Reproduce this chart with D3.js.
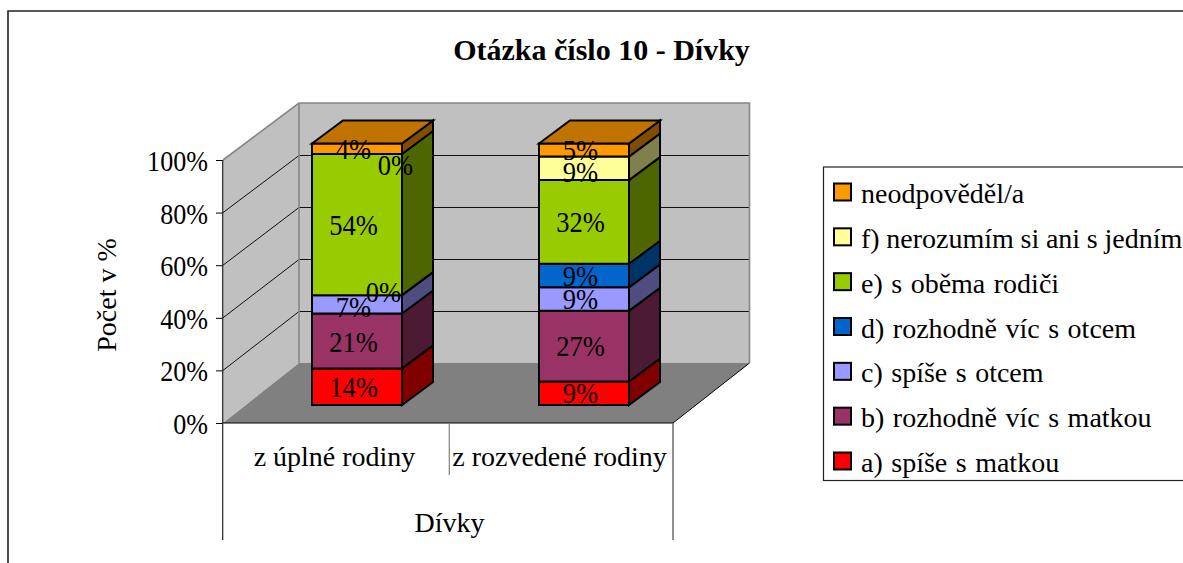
<!DOCTYPE html>
<html><head><meta charset="utf-8">
<script src="https://cdn.jsdelivr.net/npm/d3@7/dist/d3.min.js"></script>
<style>html,body{margin:0;padding:0;background:#fff;overflow:hidden}svg{display:block}text{font-family:"Liberation Serif",serif;fill:#000}</style>
</head><body><svg id="c" width="1183" height="563"></svg>
<script>
const chartTitle = "Otázka číslo 10 - Dívky";
const yAxisTitle = "Počet v %";
const xAxisTitle = "Dívky";
const categories = ["z úplné rodiny", "z rozvedené rodiny"];
const seriesNames = ["a) spíše s matkou","b) rozhodně víc s matkou","c) spíše s otcem","d) rozhodně víc s otcem","e) s oběma rodiči","f) nerozumím si ani s jedním","neodpověděl/a"];
const seriesColors = ["#ff0000","#993366","#9999ff","#0066cc","#99cc00","#ffff99","#ff9900"];
const valuesFull = [14,21,7,0,54,0,4];
const valuesDivorced = [9,27,9,9,32,9,5];
const yTicks = [0,20,40,60,80,100];

const svg = d3.select("#c");
const dark = c => { const k = d3.color(c); return d3.rgb(k.r/2,k.g/2,k.b/2).formatHex(); };
const poly = (pts,fill,stroke,sw) => svg.append("polygon").attr("points",pts.map(p=>p.join(",")).join(" ")).attr("fill",fill).attr("stroke",stroke||"none").attr("stroke-width",sw||0).attr("stroke-linejoin","miter");
const line = (x1,y1,x2,y2,c,w) => svg.append("line").attr("x1",x1).attr("y1",y1).attr("x2",x2).attr("y2",y2).attr("stroke",c).attr("stroke-width",w||1);
// the reference's number glyphs are condensed
const squeeze = (sel,k) => sel.each(function(){ const w=this.getComputedTextLength(); d3.select(this).attr("textLength",w*k).attr("lengthAdjust","spacingAndGlyphs"); });

// outer frame
svg.append("path").attr("d","M8,563V11H1183").attr("fill","none").attr("stroke","#222").attr("stroke-width",1.6);

const fx0=223, fx1=673, fy0=423, fyTop=160, bx0=299, bx1=749.5, by0=363, byTop=103;
const yFront = d3.scaleLinear().domain([0,100]).range([fy0,fyTop]);
const yBack = d3.scaleLinear().domain([0,100]).range([by0,byTop]);
const x = d3.scaleBand().domain(categories).range([fx0,fx1]);

// walls and floor
poly([[bx0,by0],[bx1,by0],[bx1,byTop],[bx0,byTop]],"#c0c0c0");
poly([[fx0,fy0],[bx0,by0],[bx0,byTop],[fx0,fyTop]],"#c0c0c0");
poly([[fx0,fy0],[fx1,fy0],[bx1,by0],[bx0,by0]],"#808080");
// grid
yTicks.slice(1,5).forEach(t=>{
  svg.append("polyline").attr("points",`${fx0},${yFront(t)} ${bx0},${yBack(t)+.5} ${bx1},${yBack(t)+.5}`).attr("fill","none").attr("stroke","#111").attr("stroke-width",1);
});
// wall edges
svg.append("polyline").attr("points",`${fx0},${fyTop} ${bx0},${byTop} ${bx1},${byTop} ${bx1},${by0}`).attr("fill","none").attr("stroke","#868686").attr("stroke-width",1.6);
line(bx0,by0,bx0,byTop,"#868686",1.6);
line(fx1,fy0,bx1,by0,"#000",1);

// bars
const barW=90, bdx=31, bdy=-23, barBottom=405, barTop=143.5;
const yBar=d3.scaleLinear().domain([0,100]).range([barBottom,barTop]);
const barX={[categories[0]]:312,[categories[1]]:539};
const labelNudge={ "0:2":[0,3], "0:1":[0,1.5], "0:3":[30,-3], "0:5":[42,11], "1:5":[0,3.5] };
[valuesFull,valuesDivorced].forEach((vals,ci)=>{
  const bx=barX[categories[ci]];
  const stack=d3.cumsum(vals);
  vals.forEach((v,i)=>{
    if(v===0) return;
    const y0=yBar(stack[i]-v), y1=yBar(stack[i]);
    poly([[bx,y1],[bx+barW,y1],[bx+barW,y0],[bx,y0]],seriesColors[i],"#000",2);
    poly([[bx+barW,y1],[bx+barW+bdx,y1+bdy],[bx+barW+bdx,y0+bdy],[bx+barW,y0]],dark(seriesColors[i]),"#000",2);
  });
  poly([[bx,barTop],[bx+bdx,barTop+bdy],[bx+barW+bdx,barTop+bdy],[bx+barW,barTop]],"#c07300","#000",2);
  vals.forEach((v,i)=>{
    const n=labelNudge[ci+":"+i]||[0,0];
    const y=(yBar(stack[i]-v)+yBar(stack[i]))/2;
    svg.append("text").attr("x",bx+41.5+n[0]).attr("y",y+n[1]+10).attr("text-anchor","middle").attr("font-size",30).text(v+"%").call(squeeze,0.885);
  });
});

// axes
const yAxis=d3.axisLeft(yFront).tickValues(yTicks).tickFormat(d=>d+"%").tickSize(7).tickPadding(8);
const ga=svg.append("g").attr("transform",`translate(${fx0},0)`).call(yAxis);
ga.select(".domain").remove();
ga.selectAll("line").attr("stroke","#000");
ga.selectAll("text").attr("font-size",30).attr("font-family","Liberation Serif").attr("dy",10.5).call(squeeze,0.87);
line(fx0-.3,fyTop,fx0-.3,540,"#222",1.2);
line(fx0,fy0,fx1,fy0,"#000",1.2);
line(fx1,fy0,fx1,540,"#555",1.3);
line(449.3,fy0,449.3,475,"#808080",1.2);
categories.forEach(c=>{
  svg.append("text").attr("x",x(c)+x.bandwidth()/2-1).attr("y",465.5).attr("text-anchor","middle").attr("font-size",28).text(c);
});
svg.append("text").attr("x",449.5).attr("y",532).attr("text-anchor","middle").attr("font-size",28).text(xAxisTitle);
svg.append("text").attr("transform","translate(116,295) rotate(-90)").attr("text-anchor","middle").attr("font-size",28).text(yAxisTitle);
svg.append("text").attr("x",601.5).attr("y",60).attr("text-anchor","middle").attr("font-size",30).attr("font-weight","bold").text(chartTitle);

// legend
svg.append("rect").attr("x",823.5).attr("y",167).attr("width",380).attr("height",313.5).attr("fill","#fff").attr("stroke","#222").attr("stroke-width",1.2);
const rev=seriesNames.map((n,i)=>i).reverse();
const yLeg=d3.scalePoint().domain(rev).range([192,461]);
rev.forEach(i=>{
  const y=yLeg(i);
  svg.append("rect").attr("x",834).attr("y",y-8.5).attr("width",17).attr("height",17).attr("fill",seriesColors[i]).attr("stroke","#000").attr("stroke-width",2);
  svg.append("text").attr("x",861).attr("y",y+11).attr("font-size",28).attr("word-spacing",i===5?-0.3:1.5).text(seriesNames[i]);
});
</script></body></html>
